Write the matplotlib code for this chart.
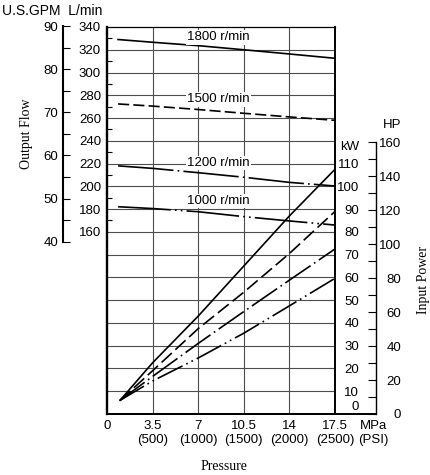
import matplotlib
matplotlib.use('Agg')
import matplotlib.pyplot as plt
from matplotlib.ticker import FixedLocator

plt.rcParams['font.family'] = ['Liberation Sans', 'DejaVu Sans']
plt.rcParams['font.size'] = 9.5
plt.rcParams['lines.scale_dashes'] = False

# pressure axis: MPa with PSI underneath
mpa_ticks = [0, 3.5, 7, 10.5, 14, 17.5]
psi_ticks = [None, 500, 1000, 1500, 2000, 2500]

speeds = ['1800 r/min', '1500 r/min', '1200 r/min', '1000 r/min']

# output flow (L/min)
flow_p = [0.85, 3.5, 7, 10.5, 14, 17.5]
flow_1800 = [329, 326.6, 323.6, 320, 316.3, 312.5]
flow_1500 = [272.4, 270.5, 267.5, 264.2, 261, 258]
flow_1200 = [218, 215.8, 212, 208, 203.5, 200.3]
flow_1000 = [182.1, 180.5, 177.7, 173.4, 169.6, 166]

# input power (kW)
power_p = [1.0, 3.5, 7, 10.5, 14, 17.5]
power_1800 = [6, 22.5, 43, 65, 87, 107.5]
power_1500 = [6, 19, 37.5, 53.5, 70.5, 89]
power_1200 = [6, 16.5, 31, 45, 58.8, 72.5]
power_1000 = [6, 14.5, 24.6, 35.5, 47.5, 59.6]

label_p = 8.55
label_flow = [330.8, 276.7, 220.5, 187.1]

LPM_PER_GPM = 3.78541
HP_PER_KW = 1.341

flow_styles = ['-', (0, (8, 3)), (0, (40, 3, 1.2, 3)), (0, (38, 3, 1.2, 3, 1.2, 3))]
power_styles = ['-', (0, (10, 3.5)), (0, (22, 3, 1.2, 3)), (0, (20, 3, 1.2, 3, 1.2, 3))]

W, H = 431, 475


def rect(x0, x1, y0=27, y1=414):
    # pixel box -> figure fraction
    return [x0 / W, 1 - y1 / H, (x1 - x0) / W, (y1 - y0) / H]


fig = plt.figure(figsize=(W / 100, H / 100), dpi=100)

# main axes: pressure vs L/min
ax = fig.add_axes(rect(107, 335))
ax.set_xlim(0, 17.5)
ax.set_ylim(0, 340)
for x in mpa_ticks[1:-1]:
    ax.axvline(x, color='0.3', lw=0.8, zorder=0)
for y in range(20, 340, 20):
    ax.axhline(y, color='0.3', lw=0.8, zorder=0)

ax.spines['left'].set_linewidth(1.7)
ax.spines['right'].set_linewidth(1.4)
ax.spines['bottom'].set_linewidth(1.4)
ax.spines['top'].set_linewidth(0.9)

ax.yaxis.set_major_locator(FixedLocator(range(160, 341, 20)))
ax.yaxis.set_minor_locator(FixedLocator(range(170, 331, 20)))
ax.tick_params(axis='y', which='major', length=0, pad=4.3)
ax.tick_params(axis='y', which='minor', direction='in', length=3.6, width=0.8)

ax.set_xticks(mpa_ticks)
ax.set_xticklabels([f'{m:g}' if p is None else f'{m:g}\n({p})'
                    for m, p in zip(mpa_ticks, psi_ticks)])
ax.tick_params(axis='x', length=0, pad=4.5)

flows = [flow_1800, flow_1500, flow_1200, flow_1000]
for fl, ls in zip(flows, flow_styles):
    ax.plot(flow_p, fl, color='black', lw=1.2, linestyle=ls)

for name, y in zip(speeds, label_flow):
    ax.text(label_p, y, name, ha='center', va='center', fontsize=9.5,
            bbox=dict(facecolor='white', edgecolor='none', pad=1.0), zorder=3)

ax.annotate('MPa\n(PSI)', xy=(17.5, 0), xytext=(27.4, -4.5), textcoords='offset points',
            ha='center', va='top', annotation_clip=False)

# power in kW on the same frame
ax_pow = ax.twinx()
ax_pow.set_ylim(0, 170)
for s in ax_pow.spines.values():
    s.set_visible(False)
ax_pow.set_yticks(range(10, 111, 10))
ax_pow.tick_params(axis='y', length=0, pad=17.3)
plt.setp(ax_pow.get_yticklabels(), ha='right')
powers = [power_1800, power_1500, power_1200, power_1000]
for pw, ls in zip(powers, power_styles):
    ax_pow.plot(power_p, pw, color='black', lw=1.2, linestyle=ls)
ax_pow.annotate('0', xy=(1, 0), xycoords='axes fraction', xytext=(17.3, 5),
                textcoords='offset points', ha='right', va='center')
ax_pow.annotate('kW', xy=(17.5, 117.3), xytext=(17.3, 0), textcoords='offset points',
                ha='right', va='center', annotation_clip=False)

# HP scale, separate spine further right
ax_hp = fig.add_axes(rect(107, 376))
ax_hp.patch.set_visible(False)
ax_hp.set_ylim(0, 170 * HP_PER_KW)
ax_hp.spines['top'].set_visible(False)
ax_hp.spines['left'].set_visible(False)
ax_hp.spines['right'].set_bounds(0, 160)
ax_hp.spines['right'].set_linewidth(1.0)
ax_hp.spines['bottom'].set_linewidth(1.4)
ax_hp.set_xticks([])
ax_hp.yaxis.tick_right()
ax_hp.yaxis.set_major_locator(FixedLocator(range(0, 161, 20)))
ax_hp.yaxis.set_minor_locator(FixedLocator(range(10, 151, 20)))
ax_hp.tick_params(axis='y', which='both', direction='in', length=5.8, width=0.8, pad=18)
plt.setp(ax_hp.get_yticklabels(), ha='right')
ax_hp.annotate('HP', xy=(1, 170.2), xycoords=('axes fraction', 'data'), xytext=(18, 0),
               textcoords='offset points', ha='right', va='center', annotation_clip=False)

# GPM scale, separate spine further left (1 px taller so 90 stays in view)
ax_gpm = fig.add_axes(rect(63, 335, y0=26))
ax_gpm.patch.set_visible(False)
ax_gpm.set_ylim(0, (414 - 26) / 387 * 340 / LPM_PER_GPM)
for side in ['top', 'right', 'bottom']:
    ax_gpm.spines[side].set_visible(False)
ax_gpm.spines['left'].set_bounds(40, 90)
ax_gpm.spines['left'].set_linewidth(1.5)
ax_gpm.set_xticks([])
ax_gpm.yaxis.set_major_locator(FixedLocator(range(40, 91, 10)))
ax_gpm.yaxis.set_minor_locator(FixedLocator(range(45, 86, 10)))
ax_gpm.tick_params(axis='y', which='both', direction='in', length=5, width=0.8, pad=3.6)

fig.text(2 / W, 1 - 11 / H, 'U.S.GPM  L/min', ha='left', va='center', fontsize=10)
fig.text(26.5 / W, 1 - 134 / H, 'Output Flow', rotation=90, ha='center', va='center',
         family='Liberation Serif', fontsize=10)
fig.text(224 / W, 1 - 466 / H, 'Pressure', ha='center', va='center',
         family='Liberation Serif', fontsize=10)
fig.text(424 / W, 1 - 280 / H, 'Input Power', rotation=90, ha='center', va='center',
         family='Liberation Serif', fontsize=10)

fig.savefig('out.png', dpi=100)
